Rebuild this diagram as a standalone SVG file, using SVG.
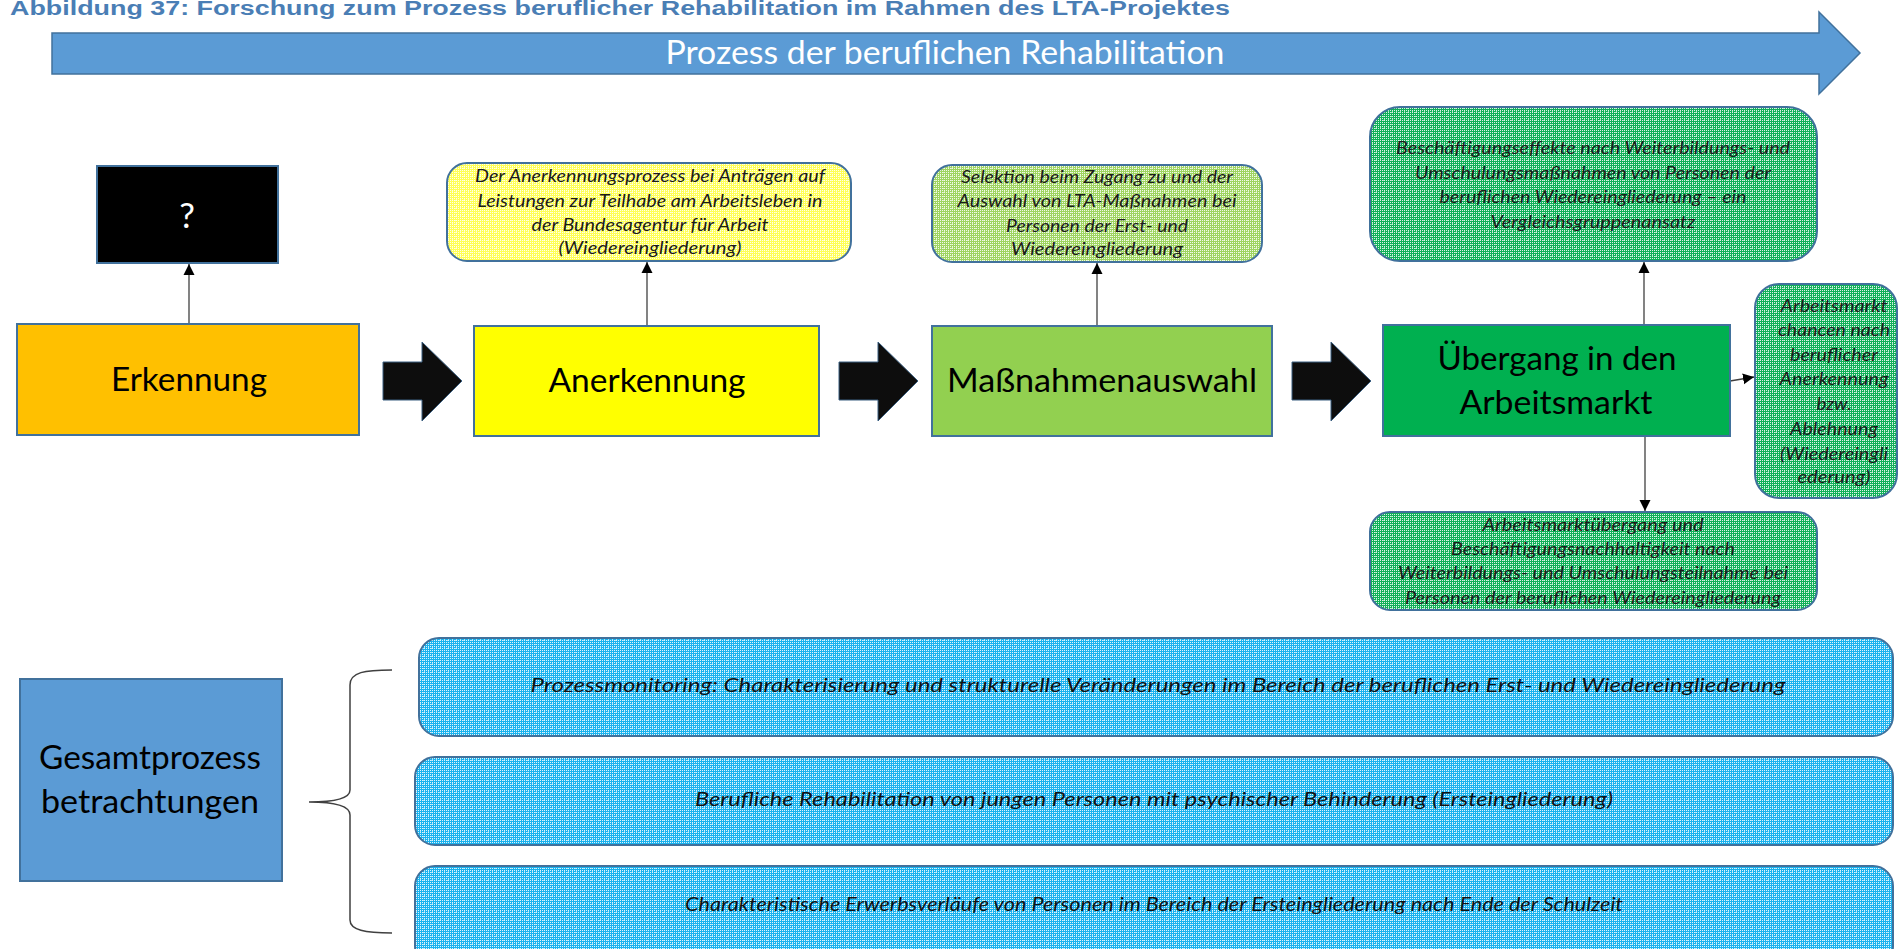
<svg xmlns="http://www.w3.org/2000/svg" width="1899" height="949" viewBox="0 0 1899 949">
<style>
.box{stroke:#41719c;stroke-width:2}
.lbl{font-family:Lato,"Open Sans",sans-serif;font-size:32px;text-anchor:middle;fill:#000}
.note{font-family:Lato,"Open Sans",sans-serif;font-style:italic;font-size:18px;text-anchor:middle;fill:#1a1a1a}
.big{font-family:Lato,"Open Sans",sans-serif;font-style:italic;font-size:20px;text-anchor:middle;fill:#111}
.conn{stroke:#404040;stroke-width:1.3;fill:none;marker-end:url(#ah)}
.blk{fill:#0d0d0d;stroke:#3b5f80;stroke-width:1}
</style>
<defs>
<marker id="ah" viewBox="0 0 10 10" refX="10" refY="5" markerWidth="11" markerHeight="12" markerUnits="userSpaceOnUse" orient="auto">
<path d="M0,0 L10,5 L0,10 z" fill="#000"/>
</marker>
<pattern id="dots" width="2" height="2" patternUnits="userSpaceOnUse"><rect width="1" height="1" fill="#fff" fill-opacity="0.85"/></pattern>
<pattern id="pYellow" width="8" height="8" patternUnits="userSpaceOnUse"><rect width="8" height="8" fill="#ffff55"/><rect width="8" height="8" fill="url(#dots)"/><path d="M0 7.5h8M7.5 0v8" stroke="#fff" stroke-dasharray="1 3" opacity=".6"/></pattern>
<pattern id="pLGreen" width="8" height="8" patternUnits="userSpaceOnUse"><rect width="8" height="8" fill="#9ed460"/><rect width="8" height="8" fill="url(#dots)"/><path d="M0 7.5h8M7.5 0v8" stroke="#fff" stroke-dasharray="1 3" opacity=".6"/></pattern>
<pattern id="pGreen" width="8" height="8" patternUnits="userSpaceOnUse"><rect width="8" height="8" fill="#10b058"/><rect width="8" height="8" fill="url(#dots)"/><path d="M0 7.5h8M7.5 0v8" stroke="#fff" stroke-dasharray="1 3" opacity=".6"/></pattern>
<pattern id="pBlue" width="8" height="8" patternUnits="userSpaceOnUse"><rect width="8" height="8" fill="#1ab2ee"/><rect width="8" height="8" fill="url(#dots)"/><path d="M0 7.5h8M7.5 0v8" stroke="#fff" stroke-dasharray="1 3" opacity=".6"/></pattern>
</defs>
<rect width="1899" height="949" fill="#fff"/>

<g id="title">
<text x="10" y="15" font-family="'Liberation Sans',Arial,sans-serif" font-weight="bold" font-size="20" fill="#4a7eb5" textLength="1220" lengthAdjust="spacingAndGlyphs">Abbildung 37: Forschung zum Prozess beruflicher Rehabilitation im Rahmen des LTA-Projektes</text>
</g>

<g id="process-arrow">
<polygon points="52,33 1819,33 1819,12 1860,53 1819,94 1819,74 52,74" fill="#5b9bd5" stroke="#41719c" stroke-width="1.5"/>
<text x="945" y="64" font-family="Lato,'Open Sans',sans-serif" font-size="33" fill="#fff" text-anchor="middle" textLength="559" lengthAdjust="spacingAndGlyphs">Prozess der beruflichen Rehabilitation</text>
</g>

<g id="connectors">
<polygon class="blk" points="383,362 422,362 422,342 462,381 422,421 422,400 383,400"/>
<polygon class="blk" points="839,362 878,362 878,342 918,381 878,421 878,400 839,400"/>
<polygon class="blk" points="1292,362 1331,362 1331,342 1371,381 1331,421 1331,400 1292,400"/>
<path class="conn" d="M189,324 L189,264"/>
<path class="conn" d="M647,326 L647,262"/>
<path class="conn" d="M1097,326 L1097,263"/>
<path class="conn" d="M1644,325 L1644,262"/>
<path class="conn" d="M1645,436 L1645,511"/>
<path class="conn" d="M1730,381 L1754,377"/>
<path d="M392,670 C365,670 350,672 350,685 L350,790 C350,798 335,802 309,802 C335,802 350,806 350,815 L350,920 C350,930 365,933 392,933" fill="none" stroke="#404040" stroke-width="1.5"/>
</g>

<g id="node-question">
<rect class="box" x="97" y="166" width="181" height="97" fill="#000"/>
<text x="187" y="228" font-family="Lato,'Open Sans',sans-serif" font-size="35" fill="#fff" text-anchor="middle">?</text>
</g>

<g id="node-erkennung">
<rect class="box" x="17" y="324" width="342" height="111" fill="#ffc000"/>
<text class="lbl" x="189" y="391" textLength="156" lengthAdjust="spacingAndGlyphs">Erkennung</text>
</g>

<g id="node-anerkennung">
<rect class="box" x="474" y="326" width="345" height="110" fill="#ffff00"/>
<text class="lbl" x="647" y="392" textLength="197" lengthAdjust="spacingAndGlyphs">Anerkennung</text>
</g>

<g id="node-anerkennung-note">
<rect class="box" x="447" y="163" width="404" height="98" rx="20" fill="url(#pYellow)"/>
<text class="note" x="650" y="182" textLength="350" lengthAdjust="spacingAndGlyphs">Der Anerkennungsprozess bei Anträgen auf</text>
<text class="note" x="650" y="207" textLength="345" lengthAdjust="spacingAndGlyphs">Leistungen zur Teilhabe am Arbeitsleben in</text>
<text class="note" x="650" y="231" textLength="237" lengthAdjust="spacingAndGlyphs">der Bundesagentur für Arbeit</text>
<text class="note" x="650" y="254" textLength="183" lengthAdjust="spacingAndGlyphs">(Wiedereingliederung)</text>
</g>

<g id="node-massnahmen">
<rect class="box" x="932" y="326" width="340" height="110" fill="#92d050"/>
<text class="lbl" x="1102" y="392" textLength="310" lengthAdjust="spacingAndGlyphs">Maßnahmenauswahl</text>
</g>

<g id="node-massnahmen-note">
<rect class="box" x="932" y="165" width="330" height="97" rx="20" fill="url(#pLGreen)"/>
<text class="note" x="1097" y="183" textLength="272" lengthAdjust="spacingAndGlyphs">Selektion beim Zugang zu und der</text>
<text class="note" x="1097" y="207" textLength="279" lengthAdjust="spacingAndGlyphs">Auswahl von LTA-Maßnahmen bei</text>
<text class="note" x="1097" y="232" textLength="182" lengthAdjust="spacingAndGlyphs">Personen der Erst- und</text>
<text class="note" x="1097" y="255" textLength="172" lengthAdjust="spacingAndGlyphs">Wiedereingliederung</text>
</g>

<g id="node-uebergang">
<rect class="box" x="1383" y="325" width="347" height="111" fill="#00b050"/>
<text class="lbl" x="1557" y="370" textLength="239" lengthAdjust="spacingAndGlyphs">Übergang in den</text>
<text class="lbl" x="1556" y="414" textLength="193" lengthAdjust="spacingAndGlyphs">Arbeitsmarkt</text>
</g>

<g id="node-uebergang-top">
<rect class="box" x="1370" y="107" width="447" height="154" rx="30" fill="url(#pGreen)"/>
<text class="note" x="1593" y="154" textLength="394" lengthAdjust="spacingAndGlyphs">Beschäftigungseffekte nach Weiterbildungs- und</text>
<text class="note" x="1593" y="179" textLength="356" lengthAdjust="spacingAndGlyphs">Umschulungsmaßnahmen von Personen der</text>
<text class="note" x="1593" y="203" textLength="307" lengthAdjust="spacingAndGlyphs">beruflichen Wiedereingliederung – ein</text>
<text class="note" x="1593" y="228" textLength="205" lengthAdjust="spacingAndGlyphs">Vergleichsgruppenansatz</text>
</g>

<g id="node-uebergang-right">
<rect class="box" x="1755" y="284" width="142" height="214" rx="24" fill="url(#pGreen)"/>
<text class="note" x="1834" y="312" textLength="107" lengthAdjust="spacingAndGlyphs">Arbeitsmarkt</text>
<text class="note" x="1834" y="336" textLength="112" lengthAdjust="spacingAndGlyphs">chancen nach</text>
<text class="note" x="1834" y="361" textLength="88" lengthAdjust="spacingAndGlyphs">beruflicher</text>
<text class="note" x="1834" y="385" textLength="109" lengthAdjust="spacingAndGlyphs">Anerkennung</text>
<text class="note" x="1834" y="410" textLength="35" lengthAdjust="spacingAndGlyphs">bzw.</text>
<text class="note" x="1834" y="435" textLength="88" lengthAdjust="spacingAndGlyphs">Ablehnung</text>
<text class="note" x="1834" y="460" textLength="108" lengthAdjust="spacingAndGlyphs">(Wiedereingli</text>
<text class="note" x="1834" y="483" textLength="73" lengthAdjust="spacingAndGlyphs">ederung)</text>
</g>

<g id="node-uebergang-bottom">
<rect class="box" x="1370" y="512" width="447" height="98" rx="20" fill="url(#pGreen)"/>
<text class="note" x="1593" y="531" textLength="221" lengthAdjust="spacingAndGlyphs">Arbeitsmarktübergang und</text>
<text class="note" x="1593" y="555" textLength="284" lengthAdjust="spacingAndGlyphs">Beschäftigungsnachhaltigkeit nach</text>
<text class="note" x="1593" y="579" textLength="390" lengthAdjust="spacingAndGlyphs">Weiterbildungs- und Umschulungsteilnahme bei</text>
<text class="note" x="1593" y="604" textLength="376" lengthAdjust="spacingAndGlyphs">Personen der beruflichen Wiedereingliederung</text>
</g>

<g id="node-gesamt">
<rect class="box" x="20" y="679" width="262" height="202" fill="#5b9bd5"/>
<text class="lbl" x="150" y="769" font-size="32" textLength="222" lengthAdjust="spacingAndGlyphs">Gesamtprozess</text>
<text class="lbl" x="150" y="813" font-size="32" textLength="218" lengthAdjust="spacingAndGlyphs">betrachtungen</text>
</g>

<g id="node-monitoring">
<rect class="box" x="419" y="638" width="1474" height="98" rx="20" fill="url(#pBlue)"/>
<text class="big" x="1158" y="692" textLength="1255" lengthAdjust="spacingAndGlyphs">Prozessmonitoring: Charakterisierung und strukturelle Veränderungen im Bereich der beruflichen Erst- und Wiedereingliederung</text>
</g>

<g id="node-junge">
<rect class="box" x="415" y="757" width="1478" height="88" rx="20" fill="url(#pBlue)"/>
<text class="big" x="1154" y="806" textLength="918" lengthAdjust="spacingAndGlyphs">Berufliche Rehabilitation von jungen Personen mit psychischer Behinderung (Ersteingliederung)</text>
</g>

<g id="node-erwerb">
<rect class="box" x="415" y="866" width="1478" height="100" rx="20" fill="url(#pBlue)"/>
<text class="big" x="1154" y="911" textLength="938" lengthAdjust="spacingAndGlyphs">Charakteristische Erwerbsverläufe von Personen im Bereich der Ersteingliederung nach Ende der Schulzeit</text>
</g>
</svg>
